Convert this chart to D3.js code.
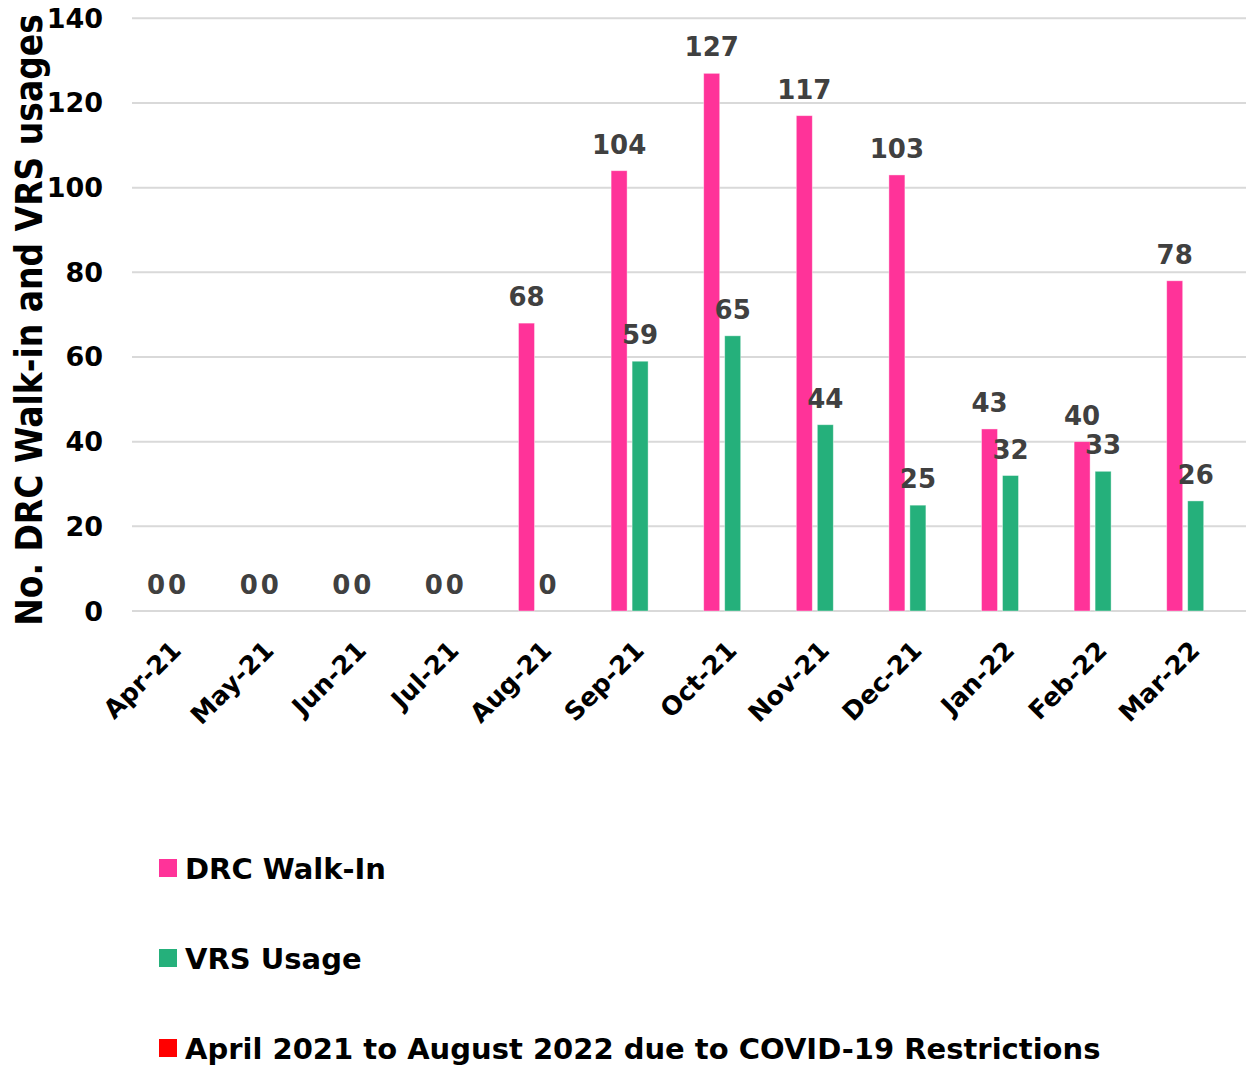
<!DOCTYPE html>
<html><head><meta charset="utf-8">
<script src="https://cdn.jsdelivr.net/npm/d3@7"></script>
<style>body{margin:0;background:#fff}svg{display:block}text{font-family:"DejaVu Sans",Verdana,sans-serif;font-weight:bold}</style>
</head><body>
<svg id="c" width="1246" height="1067"></svg>
<script>
const categories = ["Apr-21","May-21","Jun-21","Jul-21","Aug-21","Sep-21","Oct-21","Nov-21","Dec-21","Jan-22","Feb-22","Mar-22"];
const walkIn = [0,0,0,0,68,104,127,117,103,43,40,78];
const vrs = [0,0,0,0,0,59,65,44,25,32,33,26];
const yTicks = [0,20,40,60,80,100,120,140];
const seriesNames = ["DRC Walk-In","VRS Usage","April 2021 to August 2022 due to COVID-19 Restrictions"];
const colors = ["#FF3399","#25B07B","#FF0000"];
const yTitle = "No. DRC Walk-in and VRS usages";

const svg = d3.select("#c");
const x = d3.scaleBand().domain(categories).range([120.3, 1231.5]).padding(0);
const y = d3.scaleLinear().domain([0,140]).range([611, 18.3]);

// gridlines
svg.append("g").selectAll("line").data(yTicks).join("line")
  .attr("x1",132).attr("x2",1246)
  .attr("y1",d=>y(d)).attr("y2",d=>y(d))
  .attr("stroke","#d9d9d9").attr("stroke-width",2);

// y tick labels
svg.append("g").selectAll("text").data(yTicks).join("text")
  .attr("x",103).attr("y",d=>y(d)+9.5).attr("text-anchor","end")
  .attr("font-size",27).attr("fill","#000").text(d=>d);

// y title (condensed to match reference length)
const title = svg.append("text")
  .attr("text-anchor","middle").attr("font-size",37)
  .attr("fill","#000").text(yTitle);
const natLen = title.node().getComputedTextLength() || 685;
title.attr("transform",`translate(42,320) rotate(-90) scale(${612/natLen},1)`);

const bw = 16, gap = 2.5;
const series = [walkIn, vrs];
series.forEach((vals, si) => {
  const off = si === 0 ? -gap - bw : gap;
  svg.append("g").selectAll("rect").data(vals).join("rect")
    .attr("x",(d,i)=>x(categories[i]) + x.bandwidth()/2 + off)
    .attr("y",d=>y(d)).attr("width",bw).attr("height",d=>y(0)-y(d))
    .attr("fill",colors[si]).attr("stroke","#ffffff").attr("stroke-opacity",0.5).attr("stroke-width",0.8);
});
series.forEach((vals, si) => {
  const off = si === 0 ? -gap - bw/2 : gap + bw/2;
  svg.append("g").selectAll("text").data(vals).join("text")
    .attr("x",(d,i)=>x(categories[i]) + x.bandwidth()/2 + off)
    .attr("y",d=>y(d)-17).attr("text-anchor","middle")
    .attr("font-size",26).attr("fill","#404040").text(d=>d);
});

// x labels
svg.append("g").selectAll("text").data(categories).join("text")
  .attr("transform",d=>`translate(${x(d)+x.bandwidth()/2+16},652) rotate(-45)`)
  .attr("text-anchor","end").attr("font-size",25.5).attr("fill","#000").text(d=>d);

// legend
const lg = svg.append("g").selectAll("g").data(seriesNames).join("g")
  .attr("transform",(d,i)=>`translate(159,${859+i*90})`);
lg.append("rect").attr("width",18).attr("height",18).attr("fill",(d,i)=>colors[i]);
lg.append("text").attr("x",26).attr("y",20).attr("font-size",29).attr("fill","#000").text(d=>d);
</script>
</body></html>
